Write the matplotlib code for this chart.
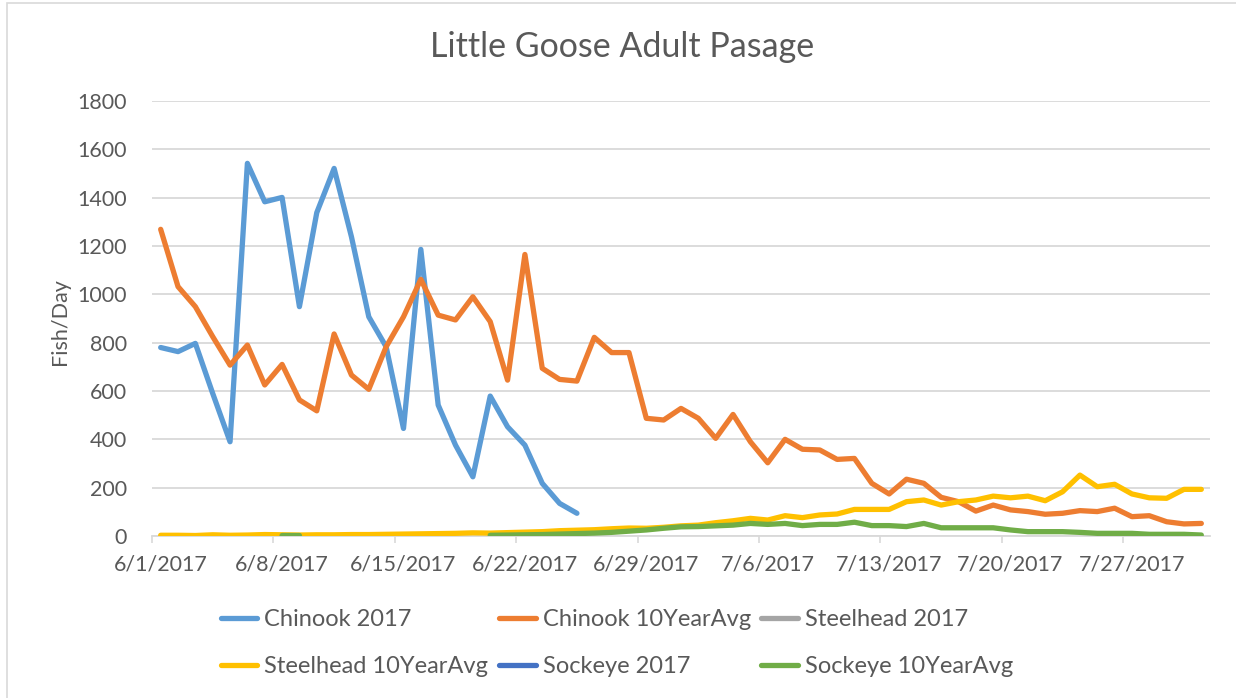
import matplotlib.pyplot as plt
import matplotlib.patches as patches
import numpy as np
import pandas as pd

dates = pd.date_range('2017-06-01', '2017-07-31', freq='D')
tick_dates = pd.date_range('2017-06-01', '2017-07-27', freq='7D')

chinook_2017 = [780, 763, 797, 590, 390, 1542, 1383, 1401, 949, 1338, 1521, 1238, 907,
                783, 445, 1186, 542, 376, 245, 579, 452, 376, 218, 135, 94]

chinook_10yr = [1269, 1032, 949, 825, 707, 790, 625, 710, 563, 518, 836, 666, 607, 783, 907,
                1062, 914, 894, 990, 887, 645, 1165, 694, 648, 641, 822, 759, 759, 487, 480,
                528, 487, 404, 503, 390, 303, 400, 359, 356, 317, 321, 218, 174, 235, 218,
                160, 142, 103, 128, 108, 101, 90, 94, 105, 101, 115, 80, 84, 59, 50, 52]

steelhead_2017 = [0, 0, 0, 0, 0, 0, 0, 0, 0, 0, 0, 0, 0, 0]

steelhead_10yr = [3, 3, 2, 5, 3, 4, 6, 5, 4, 5, 5, 6, 6, 7, 8, 9, 10, 11, 13, 12, 14, 16, 18,
                  22, 24, 26, 30, 33, 32, 36, 42, 45, 55, 63, 73, 66, 84, 76, 87, 91, 110, 110,
                  110, 142, 149, 128, 142, 149, 165, 158, 165, 146, 183, 252, 204, 214, 174,
                  158, 156, 193, 193]

sockeye_2017 = []

sockeye_10yr = [None, None, None, None, None, None, None, 2, 2, None, None, None, None, None,
                None, None, None, None, None, 3, 4, 5, 6, 8, 10, 12, 15, 20, 25, 32, 38, 39,
                42, 45, 52, 48, 52, 43, 48, 48, 57, 43, 43, 39, 52, 34, 34, 34, 34, 25, 18, 18,
                18, 15, 11, 11, 11, 7, 7, 7, 4]

fam = ['Lato', 'DejaVu Sans']
grey_txt = '#595959'

fig = plt.figure(figsize=(12.36, 6.98), dpi=100)
ax = fig.add_axes([152/1236, 1-536/698, (1210-152)/1236, (536-101)/698])

series = [
    (chinook_2017, '#5B9BD5', 'Chinook 2017'),
    (chinook_10yr, '#ED7D31', 'Chinook 10YearAvg'),
    (steelhead_2017, '#A5A5A5', 'Steelhead 2017'),
    (steelhead_10yr, '#FFC000', 'Steelhead 10YearAvg'),
    (sockeye_2017, '#4472C4', 'Sockeye 2017'),
    (sockeye_10yr, '#70AD47', 'Sockeye 10YearAvg'),
]
handles = []
for i, (vals, col, lab) in enumerate(series):
    y = np.array(vals, dtype=float)
    h, = ax.plot(dates[:len(y)], y, color=col, lw=3.8, label=lab, zorder=3+i,
                 solid_capstyle='round', solid_joinstyle='round')
    handles.append(h)

ax.set_ylim(0, 1800)
ax.set_yticks(range(0, 1801, 200))
ax.set_xlim(dates[0] - pd.Timedelta(hours=12), dates[-1] + pd.Timedelta(hours=12))
ax.set_xticks(tick_dates)
ax.set_xticklabels([f'{d.month}/{d.day}/{d.year}' for d in tick_dates])
ax.set_xticks(tick_dates - pd.Timedelta(hours=12), minor=True)
ax.tick_params(axis='x', which='major', length=0, pad=13, labelcolor=grey_txt, labelsize=15.5)
ax.tick_params(axis='x', which='minor', length=5, color='#D9D9D9', width=1.2)
ax.tick_params(axis='y', length=0, pad=18, labelcolor=grey_txt, labelsize=15.5)
for lab in ax.get_xticklabels() + ax.get_yticklabels():
    lab.set_family(fam)

ax.grid(axis='y', color='#D9D9D9', lw=1.3, zorder=0)
ax.set_axisbelow(True)
for s in ['top', 'right', 'left']:
    ax.spines[s].set_visible(False)
ax.spines['bottom'].set_color('#D9D9D9')
ax.spines['bottom'].set_linewidth(1.3)

fig.text(622/1236, 1-47/698, 'Little Goose Adult Pasage', ha='center', va='center',
         fontsize=24.5, color=grey_txt, family=fam)
fig.text(60/1236, 1-322/698, 'Fish/Day', rotation=90, ha='center', va='center',
         fontsize=15.5, color=grey_txt, family=fam)

order = [0, 3, 1, 4, 2, 5]
leg = fig.legend([handles[i] for i in order], [series[i][2] for i in order],
                 ncol=3, loc='center', bbox_to_anchor=(617/1236, 1-643/698),
                 frameon=False, handlelength=1.55, handletextpad=0.3,
                 columnspacing=0.45, labelspacing=1.1, prop={'family': fam, 'size': 17})
for t in leg.get_texts():
    t.set_color(grey_txt)

fig.patches.append(patches.Rectangle((7/1236, -0.1), 1.2, 1.1 - 3/698, transform=fig.transFigure,
                                     fill=False, edgecolor='#D9D9D9', lw=1.2))

plt.savefig('out.png')
